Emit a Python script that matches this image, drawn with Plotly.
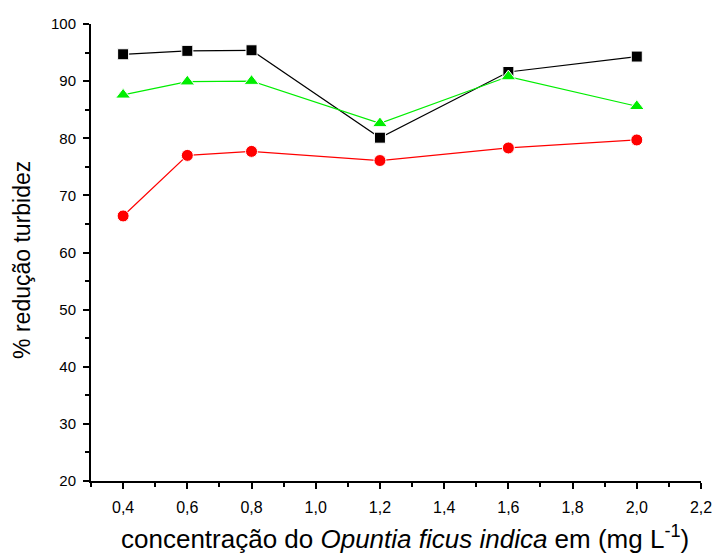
import plotly.graph_objects as go

# Coagulant dose (mg/L) and turbidity reduction (%) for three series
dose = [0.4, 0.6, 0.8, 1.2, 1.6, 2.0]
serie_preta = [94.7, 95.3, 95.4, 80.1, 91.6, 94.3]
serie_vermelha = [66.4, 77.0, 77.7, 76.1, 78.3, 79.7]
serie_verde = [87.6, 89.9, 90.0, 82.6, 90.8, 85.6]

x_ticks = [0.4, 0.6, 0.8, 1.0, 1.2, 1.4, 1.6, 1.8, 2.0, 2.2]
x_tick_text = [f"{v:.1f}".replace(".", ",") for v in x_ticks]
y_ticks = [20, 30, 40, 50, 60, 70, 80, 90, 100]

x_title = "concentração do <i>Opuntia ficus indica</i> em (mg L<sup>-1</sup>)"
y_title = "% redução turbidez"

FONT = "Liberation Sans, Arial, sans-serif"

fig = go.Figure()

def add_series(y, color, symbol, size):
    fig.add_trace(go.Scatter(
        x=dose, y=y, mode="lines+markers",
        line=dict(color=color, width=1.2),
        marker=dict(symbol=symbol, size=size, color=color,
                    line=dict(color="white", width=1)),
        showlegend=False,
    ))

add_series(serie_preta, "black", "square", 11)
add_series(serie_vermelha, "#ff0000", "circle", 12)
add_series(serie_verde, "#00ee00", "triangle-up", 13)

fig.update_layout(
    width=715, height=555,
    margin=dict(l=91, r=14, t=24, b=74),
    plot_bgcolor="white", paper_bgcolor="white",
    font=dict(family=FONT, color="black"),
)

fig.update_xaxes(
    range=[0.3, 2.2], tickvals=x_ticks, ticktext=x_tick_text,
    automargin=False,
    showgrid=False, zeroline=False,
    showline=True, linecolor="black", linewidth=2,
    ticks="outside", ticklen=6, tickwidth=2, tickcolor="black",
    tickfont=dict(size=16), ticklabelstandoff=5,
    minor=dict(tickvals=[0.3, 0.5, 0.7, 0.9, 1.1, 1.3, 1.5, 1.7, 1.9, 2.1],
               ticks="outside", ticklen=4, tickwidth=2, tickcolor="black"),
)

fig.update_yaxes(
    range=[20, 100], tickvals=y_ticks,
    automargin=False,
    showgrid=False, zeroline=False,
    showline=True, linecolor="black", linewidth=2,
    ticks="outside", ticklen=6, tickwidth=2, tickcolor="black",
    tickfont=dict(size=15), ticklabelstandoff=4,
    minor=dict(tickvals=[25, 35, 45, 55, 65, 75, 85, 95],
               ticks="outside", ticklen=4, tickwidth=2, tickcolor="black"),
)

# Axis titles placed as paper-anchored annotations
fig.add_annotation(text=x_title, xref="paper", yref="paper",
                   x=0.515, y=-0.123, xanchor="center", yanchor="middle",
                   showarrow=False, font=dict(size=26))
fig.add_annotation(text=y_title, xref="paper", yref="paper",
                   x=-0.113, y=0.484, xanchor="center", yanchor="middle",
                   textangle=-90, showarrow=False, font=dict(size=23))

fig.write_html("out.html")
